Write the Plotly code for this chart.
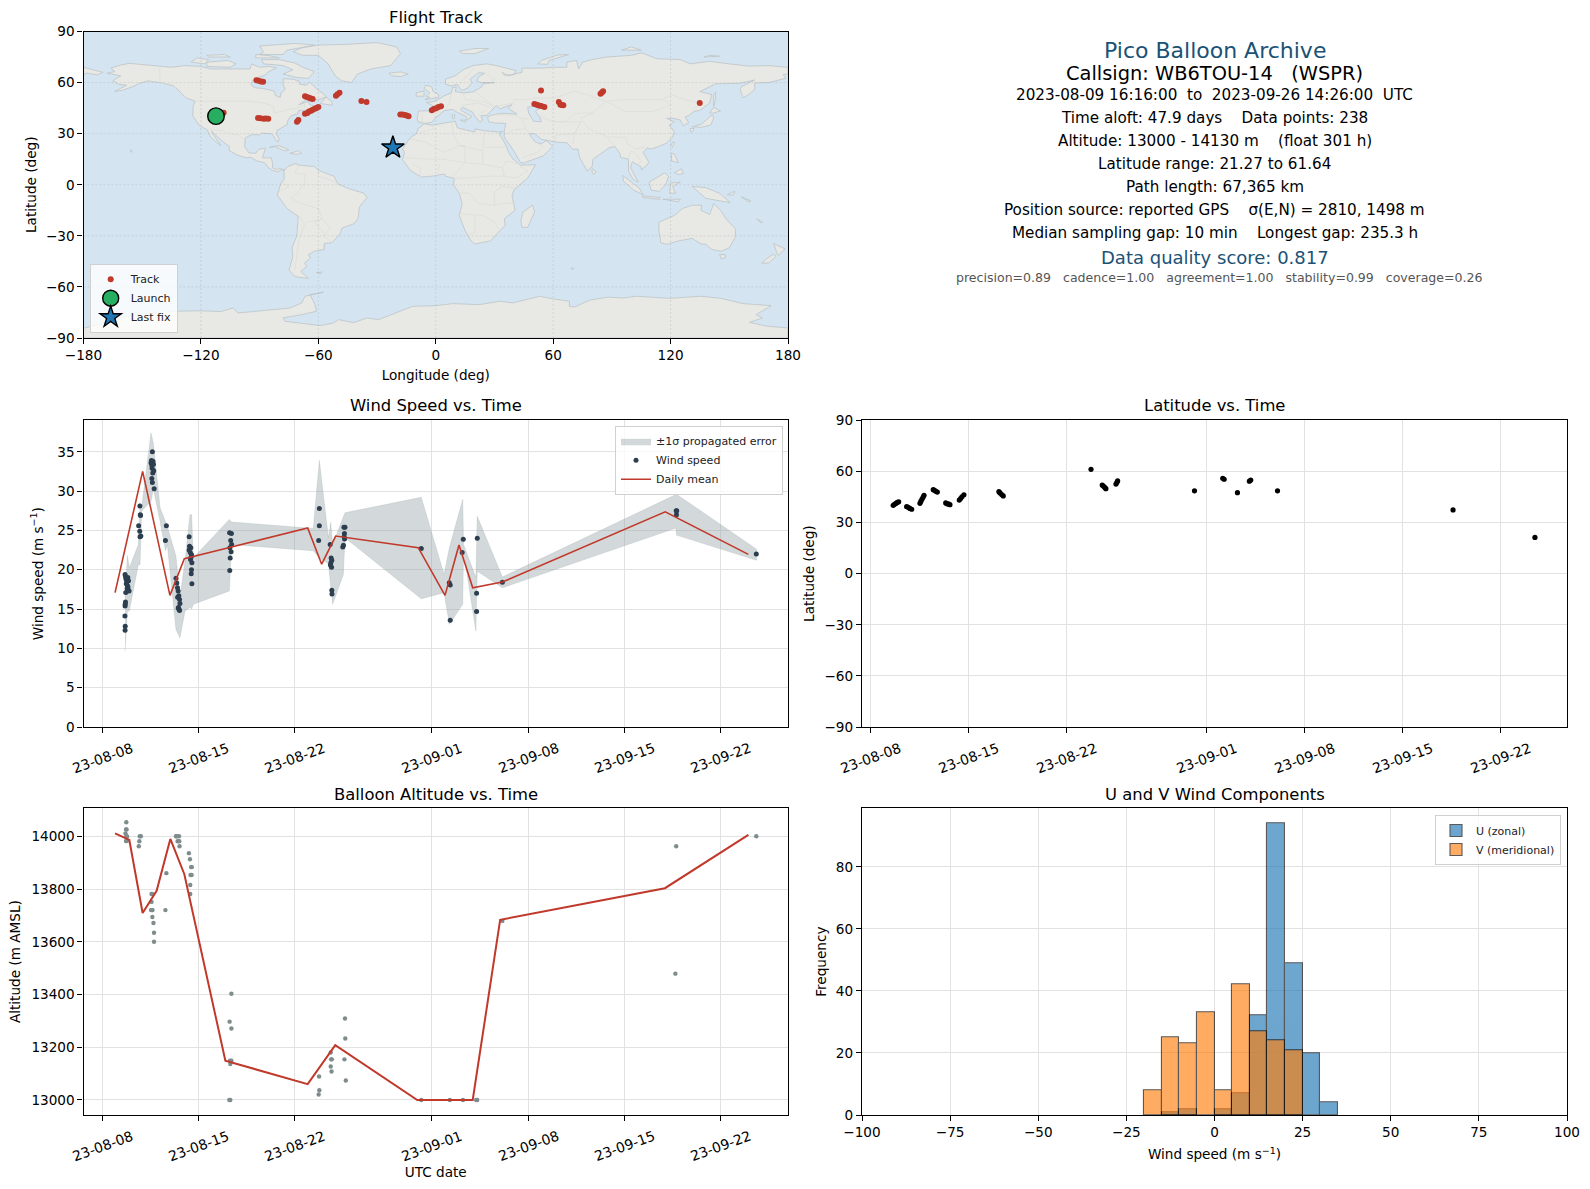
import pandas as pd
import plotly.graph_objects as go

FIG_W = 1590
FIG_H = 1189
FONT = "DejaVu Sans"

RED = "#c0392b"
NAVY = "#1a5276"

DAY0 = pd.Timestamp("2023-08-08")

date_ticks = ["2023-08-08", "2023-08-15", "2023-08-22", "2023-09-01", "2023-09-08", "2023-09-15", "2023-09-22"]
date_labels = ["23-08-08", "23-08-15", "23-08-22", "23-09-01", "23-09-08", "23-09-15", "23-09-22"]

# ---- map outlines (lon, lat)
north_america = [(-168, 65.5), (-164, 66.5), (-166, 68.5), (-161, 70.3), (-156.5, 71.3), (-150, 70.5), (-141, 69.7),
                 (-135, 69), (-128, 70), (-120, 69.5), (-115, 68), (-108, 68), (-100, 68), (-95, 68), (-94, 71),
                 (-90, 69), (-85, 69.5), (-81.5, 68.5), (-86, 66), (-87, 64.5), (-93, 62), (-94.5, 59), (-92.5, 57),
                 (-88, 56.5), (-82.5, 55), (-82, 52.5), (-79.5, 51.3), (-79, 54), (-77, 56), (-78, 59), (-78, 62.3),
                 (-73, 62), (-70, 61), (-69.5, 59), (-66, 58.5), (-64.5, 60.3), (-61, 56.5), (-57, 53), (-56, 51.5),
                 (-60, 50), (-66, 50), (-70, 47), (-65, 49), (-64.5, 47), (-61, 46), (-65.5, 43.7), (-70, 43.7),
                 (-70.5, 41.7), (-74, 40.5), (-75.5, 38), (-76, 35.2), (-78, 34), (-81, 32), (-81.5, 30), (-80, 26.8),
                 (-80.5, 25.2), (-82, 26.5), (-82.8, 28.5), (-84, 30), (-89, 30.3), (-90, 29.2), (-94, 29.5),
                 (-97.3, 27.5), (-97.7, 22.5), (-95.5, 18.7), (-92, 18.5), (-90.5, 20.8), (-87, 21.5), (-88, 17),
                 (-88.5, 15.8), (-84, 15.8), (-83.3, 12), (-83.5, 10), (-81.5, 9), (-79.5, 9.5), (-77.3, 8.7),
                 (-77.5, 8.3), (-79, 8.8), (-80.5, 7.5), (-83, 8.3), (-85.5, 10), (-87.5, 13), (-91.5, 14),
                 (-94.5, 16.2), (-97, 15.8), (-101.5, 17.5), (-105.5, 20), (-105.5, 22.5), (-109, 25.5), (-112.5, 29),
                 (-114.7, 31.5), (-112, 26.5), (-109.7, 23), (-112, 24.8), (-115, 28), (-117, 32.5), (-120.5, 34.5),
                 (-122.5, 37.5), (-124.2, 40.5), (-124, 46), (-123, 49), (-127.5, 51), (-130.5, 54.5), (-134, 58),
                 (-140, 59.8), (-147, 61), (-151.5, 59.5), (-154, 58), (-160, 55.5), (-164, 54.8), (-158, 58.5),
                 (-162, 59), (-165, 61), (-161, 64), (-168, 65.5)]
south_america = [(-77.5, 8.3), (-75.5, 10.8), (-71.5, 12.5), (-70, 11.5), (-62, 10.7), (-60, 8.5), (-52, 5), (-50, 0.5),
                 (-44, -2.5), (-37, -4.8), (-35, -7.5), (-39, -13), (-39.7, -20), (-42, -23), (-48, -25.5),
                 (-48.7, -28.5), (-53, -34), (-57, -34.5), (-57, -38), (-62, -39), (-65, -41), (-64, -43), (-67, -46),
                 (-66, -48), (-69, -51), (-65, -55), (-72, -54), (-75, -50), (-73, -42), (-73.5, -37), (-71, -30),
                 (-70.3, -18.5), (-76, -14), (-81, -6), (-80, -2.5), (-79, 1.5), (-77.5, 3), (-77.5, 8.3)]
eurasia = [(-9, 37), (-9.5, 38.8), (-8.8, 43.3), (-1.5, 43.5), (-1, 46), (-4.7, 48.4), (-1.5, 48.7), (1.5, 50.2),
           (4, 52), (8, 54), (8.5, 57), (10.5, 57.5), (10, 54.7), (14, 54), (19, 54.5), (21, 56), (23.5, 57.5),
           (24, 59.3), (30, 60), (23, 60), (21, 61), (22, 63.5), (25, 65.5), (22, 65.8), (17.5, 62), (18.5, 60),
           (16.5, 57), (14, 55.5), (12.7, 56), (11, 59), (8, 58), (5, 59), (5, 62), (10, 64), (14, 67.5), (19, 70),
           (26, 71), (31, 70), (41, 67), (40, 64.7), (35, 64.3), (34, 66), (37, 64), (40, 65), (44, 66), (44, 68.5),
           (54, 68.5), (60, 69), (67, 69), (67, 72), (72, 73), (73, 68), (75, 72), (80, 73.5), (87, 75), (100, 76),
           (105, 77.5), (113, 74), (125, 73.5), (130, 71), (140, 72.5), (150, 71), (160, 69.7), (170, 70), (180, 69),
           (180, 65), (177.5, 64.7), (179, 62.5), (170, 60), (163, 59.8), (163, 56), (160, 53), (157, 51),
           (155.5, 56), (156, 57.5), (163, 61.5), (155, 59.5), (143, 59.3), (135, 54.7), (141, 53), (140, 48),
           (135, 43.7), (132, 43), (129.7, 41), (127.5, 39.7), (129.3, 36.5), (126.5, 34.5), (125, 38), (121.5, 39),
           (118, 39), (122, 37), (119.3, 35), (122, 31), (121, 28), (118, 24.5), (113.5, 22.2), (110, 21),
           (108, 21.6), (106, 19), (109, 13), (107, 10.5), (105, 8.7), (105, 10.5), (100.5, 13.5), (99.5, 10),
           (103.5, 1.5), (101, 3), (98.5, 8), (98.5, 15), (94.5, 16), (94, 18.5), (91.5, 22.5), (88.5, 21.7),
           (86.5, 20), (80.3, 15), (80, 11), (77.5, 8), (73.5, 16), (72.7, 21), (70, 20.8), (67, 24.7), (61.5, 25),
           (57, 26), (54, 26.7), (50.5, 30), (48, 30), (48.5, 28.5), (51, 25), (54, 24), (56.5, 26), (59.7, 22.5),
           (55, 17), (45, 12.8), (43.3, 13), (39.5, 20.5), (35, 28), (35, 31.5), (35.8, 36), (30, 36.3), (27, 37),
           (26.5, 40), (29, 41), (34, 42), (41.5, 41.5), (37, 45), (39, 47), (35, 45.5), (33, 44.5), (31, 46.5),
           (28, 43), (26, 40.7), (23, 40.5), (24, 38), (22.5, 36.7), (19.5, 41), (19, 42.5), (13.7, 45.5), (12.5, 44),
           (16, 41.5), (18.5, 40), (16, 38), (15.7, 40), (11, 42.5), (8.5, 44.3), (4, 43.5), (3, 42), (0, 39.5),
           (-2, 36.7), (-5.5, 36), (-9, 37)]
africa = [(-5.8, 35.8), (-2, 35), (10, 37.3), (11, 33.5), (15, 32.3), (20, 31), (20, 32.8), (25, 31.7), (32, 31),
          (34.2, 31.3), (32.5, 30), (35.5, 24), (37.5, 18.5), (39.5, 15), (43.3, 11.5), (51, 11.8), (47, 4), (40, -3),
          (39, -6.5), (40.5, -15), (35, -20), (35.5, -24), (32.7, -27), (28, -33), (20, -34.8), (18, -33), (15, -27),
          (12, -18), (13.5, -11), (12, -5), (9, 0), (9.5, 3.8), (5, 5), (4.5, 6.3), (-2, 5), (-7.5, 4.5), (-13, 8.5),
          (-17, 14.7), (-16, 19), (-17, 21), (-13, 27.7), (-9.8, 30), (-9, 33), (-5.8, 35.8)]
australia = [(114, -22), (122, -18), (126, -14), (131, -12), (136, -12), (135.5, -15), (140, -17.5), (142, -11),
             (145.5, -15), (149, -21), (153.3, -26), (153, -31), (150, -37), (146, -39), (141, -38), (138, -35),
             (135.5, -34.7), (131, -31.5), (124, -33), (118, -35), (115, -34), (114, -27), (114, -22)]
antarctica = [(-180, -84.3), (-165, -80), (-155, -76.5), (-146, -75.5), (-134, -74.3), (-120, -74), (-110, -74.5),
              (-103.6, -72.4), (-101, -75.3), (-74.5, -72.4), (-68.5, -69.4), (-66.8, -65.5), (-57.4, -63.1),
              (-64.3, -64.5), (-61.7, -70.4), (-61, -74.3), (-68.5, -76.3), (-78, -78.2), (-77, -80.2), (-59, -82.7),
              (-52.3, -81.2), (-49.7, -79.2), (-42, -81), (-35, -78.2), (-29.3, -79.2), (-18.6, -74.7), (-11.8, -71.4),
              (0, -71), (8.7, -69.8), (22, -70.4), (33, -68.4), (39.4, -69.4), (53, -65.5), (59.8, -67), (68.3, -68.4),
              (68.3, -71.4), (71, -71.8), (78.5, -67.8), (88, -66), (95.6, -66.5), (102.7, -65.5), (119.4, -66.7),
              (135.6, -65.5), (145.8, -66.7), (157, -69.8), (171.4, -71), (163.7, -76.3), (167, -78.2), (160.3, -80.8),
              (168.8, -83), (180, -84.1), (180, -90), (-180, -90), (-180, -84.3)]
greenland = [(-73, 78.2), (-68, 76), (-60, 76), (-55, 71), (-53, 67), (-51, 63.5), (-48, 61), (-43, 60), (-40, 65),
             (-33, 68), (-23, 70), (-20, 74), (-18, 77), (-20, 81), (-30, 83.5), (-45, 82.5), (-60, 82), (-68, 80.5),
             (-73, 78.2)]
arctic_islands = [
    [(-80, 73.5), (-72, 71.5), (-68, 69), (-62, 66.5), (-65, 62.5), (-71, 63), (-78, 65), (-73, 67.5), (-78, 70),
     (-88, 71), (-89, 73.5), (-80, 73.5)],
    [(-117, 69.5), (-105, 69), (-102, 71), (-106, 73), (-117, 72), (-117, 69.5)],
    [(-125, 72), (-118, 71), (-116, 73.5), (-122, 74.5), (-125, 72)],
    [(-90, 76.5), (-78, 76.5), (-76, 79), (-62, 82), (-72, 83), (-90, 81.5), (-88, 78), (-90, 76.5)],
    [(-92, 74.5), (-80, 74.5), (-85, 75.8), (-92, 76.5), (-92, 74.5)],
    [(-116, 75), (-105, 75), (-108, 76.5), (-117, 76), (-116, 75)],
    [(12, 78.5), (20, 80), (27, 80), (20, 77), (14, 77), (12, 78.5)],
    [(52, 71), (57, 70.7), (58, 73), (68, 76.5), (62, 76.2), (54, 73), (52, 71)],
    [(95, 79), (105, 79), (100, 81), (95, 79)],
    [(137, 75), (145, 75.5), (140, 76), (137, 75)],
    [(-180, 69), (-175, 67.5), (-170, 66), (-173, 64.5), (-178, 65.5), (-180, 65), (-180, 69)],
]
other_islands = [
    [(-59, 47.7), (-53, 46.7), (-53, 48.5), (-56, 51.5), (-59, 47.7)],
    [(-85, 22), (-80, 23), (-75, 20.5), (-77.5, 19.9), (-82, 22.5), (-85, 22)],
    [(-74.5, 18.5), (-70, 20), (-68.5, 18.5), (-71.5, 17.8), (-74.5, 18.5)],
    [(-156, 20.6), (-155, 19.8), (-155.7, 19), (-156, 20.6)],
    [(-24, 65.5), (-18, 66.3), (-14, 65), (-18, 63.5), (-22.5, 64), (-24, 65.5)],
    [(-5.5, 50), (1.5, 51.2), (1.5, 52.8), (-1.5, 55), (-2, 57.5), (-5, 58.5), (-6, 56.5), (-3, 54), (-5, 52), (-3, 51.3), (-5.5, 50)],
    [(-10, 52), (-6, 52), (-6, 55), (-10, 54), (-10, 52)],
    [(49.5, -12), (50.5, -16), (47, -25), (44, -25), (43.5, -21), (44.5, -16), (49.5, -12)],
    [(145, -41), (148, -41), (148, -43), (146, -43.5), (145, -41)],
    [(172.7, -34.5), (178.5, -37.7), (175, -41.5), (174, -39), (172.7, -34.5)],
    [(172.5, -40.7), (174, -42), (170, -46), (166.5, -46), (169, -43.5), (172.5, -40.7)],
    [(131, -1), (138, -1.7), (145, -5), (150.5, -10.5), (143, -9), (138, -8), (134, -4), (131, -1)],
    [(109, 1.5), (117, 7), (119, 5), (117.5, 0), (114, -4), (110, -3), (109, 1.5)],
    [(95.5, 5.5), (104, -2), (106, -6), (101, -3), (96, 2), (95.5, 5.5)],
    [(105.5, -6.5), (114.5, -7.5), (114.5, -8.6), (106, -7.5), (105.5, -6.5)],
    [(119.5, -5), (120, 1), (125, 1.5), (121, -1), (122.5, -5), (119.5, -5)],
    [(120.5, 18.5), (122, 18), (124, 13), (120.5, 14), (120.5, 18.5)],
    [(122, 7), (125.5, 9.5), (126.5, 6.5), (124, 6), (122, 7)],
    [(131, 34), (136, 35.7), (140, 40), (141.5, 41), (142, 39), (140.5, 35), (136, 33.8), (131, 34)],
    [(130, 33), (132, 33), (131, 31), (130, 31.3), (130, 33)],
    [(140, 42), (142, 45.5), (145.5, 43.3), (141.5, 42), (140, 42)],
    [(142, 46), (143, 50), (143, 54.3), (142, 53), (142, 49), (142, 46)],
    [(121, 25), (122, 25), (120.8, 22), (120, 23), (121, 25)],
    [(80, 9.5), (82, 7.5), (80.5, 6), (79.8, 8), (80, 9.5)],
    [(12.5, 38), (15.5, 38), (15, 36.7), (12.5, 38)],
    [(8.3, 41), (9.7, 41), (9.5, 39), (8.5, 39), (8.3, 41)],
    [(69, -49), (70.5, -49), (70, -50), (69, -49)],
    [(-61, -51.5), (-58, -51.3), (-59, -52.2), (-61, -51.5)],
    [(164, -20), (167, -22), (166, -22.3), (164, -20)],
    [(116, -8.5), (125, -8.5), (124, -10), (117, -9), (116, -8.5)],
    [(151, -4.5), (153, -4), (152, -6), (149, -6), (151, -4.5)],
    [(156, -7), (161, -9.5), (160, -10), (156, -7)],
]
caspian_sea = [(47, 45.5), (52, 47), (53, 45), (51, 43), (53, 40), (54, 37), (50, 37.3), (49, 39), (47.5, 42), (47, 45.5)]
borders = [
    [(-141, 69.7), (-141, 60), (-135, 59), (-130, 55)],
    [(-123, 49), (-95, 49), (-88, 48), (-83, 46), (-82.5, 42), (-76, 44), (-71, 45), (-67, 47), (-67, 45)],
    [(-117, 32.5), (-108, 31.5), (-104, 29.5), (-101, 29.5), (-97.3, 26)],
    [(-70, 11.5), (-72, 7), (-67, 6), (-67, 1), (-70, -4), (-74, -8), (-69, -11), (-60, -14), (-58, -20), (-54, -25), (-57, -30), (-53, -34)],
    [(-70, -18), (-67, -23), (-70, -33), (-72, -50)],
    [(-79, 1.5), (-75, -1), (-80, -4)],
    [(-60, 8.5), (-60, 5), (-52, 2), (-50, 0.5)],
    [(-66, -22), (-58, -20), (-62, -22), (-58, -27), (-57, -30)],
    [(28, 41), (40, 41), (44, 39), (48, 38.5)],
    [(20, 54.5), (24, 51), (30, 46), (40, 48), (40, 50), (47, 50), (50, 51), (61, 51), (71, 55), (77, 53), (87, 49),
     (98, 50), (107, 50), (116, 50), (120, 53), (127, 50), (135, 48), (131, 43)],
    [(87, 49), (80, 42), (74, 39), (78, 33), (88, 28), (97, 28), (98, 24), (102, 21), (107, 22)],
    [(87, 49), (97, 43), (111, 43), (120, 47), (116, 50)],
    [(61, 37), (66, 37), (74, 37), (71, 30), (61, 29), (61, 25)],
    [(53, 40), (61, 37), (66, 37), (71, 42), (80, 42)],
    [(44, 39), (46, 33), (48, 30)], [(35, 29), (39, 32), (46, 33)], [(44, 16), (52, 19), (55, 22), (51, 25)],
    [(74, 37), (71, 30), (70, 24)], [(88, 27), (92, 22)], [(98, 15), (100, 20), (102, 18), (105, 14), (103, 11)],
    [(5, 44), (7, 48), (8, 54)], [(-1.5, 43.5), (3, 42.5)], [(-7, 42), (-7, 37)], [(14, 54), (15, 50), (24, 49), (30, 46)],
    [(13, 46.5), (22, 48), (29, 45)], [(21, 41), (26, 44)], [(12, 59), (20, 69)], [(24, 66), (30, 62), (28, 60)],
    [(-9, 30), (-1, 33), (-2, 35)], [(8, 37), (9, 30), (12, 23), (24, 20), (25, 31.7)], [(25, 22), (37, 22)],
    [(-13, 27), (-5, 25), (4, 19), (12, 23), (15, 23), (15, 13), (24, 12), (24, 20)], [(-17, 16), (-5, 15), (4, 15), (15, 13)],
    [(24, 12), (34, 10), (36, 14), (43, 12)], [(34, 10), (35, 5), (41, 4), (47, 8), (43, 11)],
    [(9.5, 3.8), (15, 4), (27, 5), (35, 5)], [(12, -5), (17, -5), (22, -11), (30, -12), (30, -4), (34, -1), (41, -2)],
    [(12, -17), (24, -18), (30, -22), (32, -26)], [(20, -18), (20, -28), (17, -29)], [(30, -12), (35, -11), (40.5, -11)],
    [(1, 6), (2, 12)], [(-8, 4.5), (-8, 10), (-12, 12)], [(9, 5), (14, 12)],
]

# ---- track
track_lon = [-91.6, -90.5, -89.3, -88.2, -108.4, -90.8, -89.6, -88.0, -86.9, -85.6, -70.9, -70.2, -66.8, -65.6, -64.8,
             -63.7, -62.9, -61.8, -60.9, -60.0, -66.8, -65.9, -64.8, -63.8, -62.9, -51.0, -50.2, -49.2, -38.0, -35.4,
             -18.1, -17.0, -15.8, -14.9, -13.9, -2.0, -1.0, 0.2, 1.4, 2.7, 50.4, 51.6, 52.7, 53.9, 55.5, 53.8, 62.9,
             63.7, 64.5, 65.2, 84.2, 84.9, 85.5, 134.9]
track_lat = [61.4, 61.1, 60.7, 60.5, 42.3, 39.2, 39.0, 38.7, 38.9, 38.8, 37.0, 38.0, 41.7, 42.2, 43.0, 43.4, 44.1, 44.6,
             45.1, 45.7, 52.0, 51.6, 51.1, 50.7, 50.3, 52.2, 53.1, 54.0, 49.2, 48.6, 41.3, 41.2, 40.9, 40.6, 40.3, 43.8,
             44.5, 45.0, 45.6, 46.1, 47.4, 47.0, 46.5, 46.2, 45.7, 55.3, 48.6, 47.0, 46.9, 46.7, 53.4, 54.2, 54.9, 48.0]
launch_lon = [-112.3]
launch_lat = [40.3]
last_lon = [-21.9]
last_lat = [21.8]

# ---- wind speed (days after 2023-08-08)
wind_days = [1.63, 1.66, 1.70, 1.75, 1.80, 1.84, 1.88, 1.92, 1.88, 1.83, 1.78, 1.72, 1.68, 1.66, 1.64, 1.63, 1.62, 1.64,
             1.63, 2.62, 2.70, 2.71, 2.74, 2.76, 2.72, 2.78, 3.52, 3.55, 3.58, 3.62, 3.66, 3.70, 3.60, 3.65, 3.58, 3.72,
             3.62, 3.75, 4.64, 4.57, 5.34, 5.40, 5.45, 5.50, 5.55, 5.60, 5.63, 5.52, 5.46, 5.58, 5.51, 5.60,
             6.30, 6.33, 6.30, 6.38, 6.42, 6.48, 6.44, 6.40, 6.50, 6.47, 6.45, 6.50, 9.25, 9.38, 9.33, 9.40, 9.27, 9.36,
             9.29, 9.26, 15.79, 15.79, 15.74, 16.58, 16.65, 16.70, 16.63, 16.60, 16.68, 16.70, 16.71,
             17.58, 17.66, 17.62, 17.60, 17.63, 17.55, 17.50, 23.22, 25.26, 25.33, 25.33, 26.28, 26.20,
             27.30, 27.25, 27.25, 29.13, 41.80, 41.84, 41.82, 47.64]
wind_speed = [19.4, 19.1, 18.8, 18.4, 18.0, 17.8, 17.4, 17.3, 18.6, 19.0, 17.6, 18.2, 17.1, 15.9, 15.6, 15.4, 14.1, 12.8,
              12.3, 25.6, 24.9, 28.1, 27.0, 26.9, 24.2, 24.3, 33.6, 33.9, 33.3, 35.0, 33.8, 33.4, 32.9, 32.3, 31.6,
              32.6, 31.1, 30.3, 25.6, 23.7, 18.9, 18.3, 17.7, 17.3, 16.7, 16.2, 15.7, 15.2, 16.5, 14.9, 15.1, 14.8,
              24.2, 23.0, 22.5, 22.2, 22.8, 21.9, 21.6, 21.3, 20.9, 20.0, 19.5, 18.2, 24.7, 24.6, 23.7, 23.2, 22.8,
              22.3, 21.5, 19.9, 27.8, 25.6, 23.7, 23.2, 21.5, 21.2, 20.9, 20.6, 20.3, 17.4, 16.9, 25.4, 25.4, 24.6, 24.2,
              23.9, 23.1, 22.9, 22.7, 18.35, 18.05, 13.56, 23.86, 22.2, 24.0, 17.0, 14.7, 18.4, 27.5, 27.5, 27.0, 22.0]
band_days = [1.63, 1.80, 1.94, 2.60, 2.72, 2.84, 3.52, 3.69, 4.18, 4.57, 4.71, 5.34, 5.63, 6.00, 6.36, 6.48, 6.60, 9.23,
             9.40, 15.35, 15.79, 16.45, 16.62, 16.76, 17.54, 17.66, 23.22, 24.88, 25.27, 26.24, 26.30, 27.20, 27.30,
             29.13, 41.78, 41.82, 47.66]
band_low = [9.66, 14.75, 14.75, 20.7, 20.6, 27.46, 28.7, 30.3, 26.2, 22.4, 23.2, 12.4, 11.36, 14.75, 15.2, 15.0, 15.6,
            17.3, 23.2, 22.4, 21.5, 20.76, 18.14, 15.6, 19.4, 24.07, 16.3, 17.08, 13.05, 15.6, 22.37, 12.2, 19.8, 17.7,
            25.3, 24.4, 21.2]
band_high = [16.44, 21.8, 20.25, 23.2, 28.5, 27.9, 37.4, 36.1, 27.9, 26.0, 25.5, 21.7, 16.44, 21.1, 27.0, 27.0, 21.5,
             26.4, 26.06, 25.25, 33.9, 24.07, 26.0, 23.2, 26.6, 27.25, 29.2, 19.4, 22.8, 28.94, 23.2, 19.0, 26.8, 19.07,
             29.55, 29.6, 22.6]
mean_days = [0.90, 2.91, 4.90, 5.95, 8.95, 14.94, 15.96, 16.98, 23.0, 24.95, 25.97, 26.97, 29.13, 41.0, 47.06]
mean_speed = [17.08, 32.5, 16.74, 21.4, 22.7, 25.3, 20.7, 24.28, 22.8, 16.74, 23.14, 17.71, 18.43, 27.37, 21.95]

# ---- latitude
lat_days = [1.61, 1.70, 1.80, 1.90, 2.00, 2.57, 2.68, 2.80, 2.93, 3.52, 3.58, 3.66, 3.74, 3.81, 4.47, 4.56, 4.66, 4.76,
            5.36, 5.45, 5.56, 5.66, 6.33, 6.42, 6.52, 6.66, 9.16, 9.24, 9.36, 9.47, 15.74, 16.54, 16.62, 16.72, 16.80,
            17.52, 17.58, 17.64, 23.13, 25.15, 25.25, 26.2, 27.05, 27.15, 29.06, 41.6, 47.45]
lat_vals = [40.1, 40.7, 41.2, 41.8, 42.2, 39.3, 38.9, 38.3, 37.8, 41.3, 42.4, 43.6, 44.8, 46.0, 49.3, 48.9, 48.3, 47.9,
            41.5, 41.0, 40.9, 40.5, 43.2, 44.1, 45.1, 46.3, 48.1, 47.4, 46.4, 45.6, 61.2, 52.0, 51.4, 50.6, 49.9, 52.6,
            53.5, 54.4, 48.6, 56.0, 55.4, 47.5, 54.3, 54.9, 48.6, 37.4, 21.27]

# ---- altitude
alt_days = [1.72, 1.70, 1.74, 1.66, 1.72, 1.78, 1.70, 1.76, 2.70, 2.78, 2.67, 2.63, 3.56, 3.60, 3.56, 3.60, 3.52, 3.63,
            3.62, 3.70, 3.74, 3.74, 4.64, 4.57, 5.34, 5.40, 5.56, 5.46, 5.58, 5.60, 6.28, 6.36, 6.44, 6.50, 6.40, 6.48,
            6.38, 6.38, 9.38, 9.25, 9.38, 9.28, 9.38, 9.30, 9.23, 9.30, 15.77, 15.79, 15.74, 16.62, 16.65, 16.70, 16.62,
            16.68, 17.66, 17.68, 17.62, 17.72, 23.22, 25.30, 26.26, 27.22, 27.30, 29.13, 41.80, 41.74, 47.64]
altitude = [14053, 14026, 14026, 14011, 13999, 13999, 13982, 13982, 14000, 14000, 13981, 13962, 13781, 13781, 13751, 13720,
            13720, 13720, 13694, 13671, 13634, 13600, 13860, 13720, 14000, 14000, 14000, 13981, 13981, 13962, 13936,
            13913, 13883, 13883, 13853, 13853, 13815, 13781, 13403, 13297, 13271, 13149, 13149, 13136, 13000, 13000,
            13089, 13037, 13021, 13180, 13154, 13154, 13127, 13108, 13309, 13233, 13154, 13074, 13000, 13000, 13000,
            13000, 13000, 13679, 13962, 13479, 14000]
alt_mean_days = [0.90, 1.94, 2.91, 3.93, 4.93, 5.95, 8.94, 14.94, 16.95, 22.93, 26.97, 28.97, 40.98, 47.06]
alt_mean = [14011, 13986, 13709, 13793, 13990, 13856, 13149, 13060, 13208, 13000, 13000, 13683, 13803, 14005]

# ---- histogram, 5 m/s bins
u_bins = [-12.5, -7.5, 2.5, 7.5, 12.5, 17.5, 22.5, 27.5, 32.5]
u_counts = [1, 2, 2, 7, 32, 94, 49, 20, 4]
v_bins = [-17.5, -12.5, -7.5, -2.5, 2.5, 7.5, 12.5, 17.5, 22.5]
v_counts = [8, 25, 23, 33, 8, 42, 27, 24, 21]

# text, size, colour, x centre, y centre (px)
info_lines = [
    ("Pico Balloon Archive", 22, NAVY, 1214.6, 50),
    ("Callsign: WB6TOU-14   (WSPR)", 19.4, "black", 1214.6, 73.8),
    ("2023-08-09 16:16:00  to  2023-09-26 14:26:00  UTC", 15.2, "black", 1214.6, 95),
    ("Time aloft: 47.9 days    Data points: 238", 15.2, "black", 1214.6, 118.3),
    ("Altitude: 13000 - 14130 m    (float 301 h)", 15.2, "black", 1214.6, 141.3),
    ("Latitude range: 21.27 to 61.64", 15.2, "black", 1214.6, 164.3),
    ("Path length: 67,365 km", 15.2, "black", 1214.6, 187.3),
    ("Position source: reported GPS    σ(E,N) = 2810, 1498 m", 15.2, "black", 1214.6, 210.3),
    ("Median sampling gap: 10 min    Longest gap: 235.3 h", 15.2, "black", 1214.6, 233.3),
    ("Data quality score: 0.817", 18, NAVY, 1214.6, 257.5),
    ("precision=0.89   cadence=1.00   agreement=1.00   stability=0.99   coverage=0.26", 12.55, "#555555", 1219, 277.3),
]


def to_dates(days):
    return DAY0 + pd.to_timedelta(days, unit="D")


def dom_x(left, right):
    return [left / FIG_W, right / FIG_W]


def dom_y(top, bottom):
    return [1 - bottom / FIG_H, 1 - top / FIG_H]


def outline_xy(polys):
    xs, ys = [], []
    for poly in polys:
        xs += [p[0] for p in poly] + [None]
        ys += [p[1] for p in poly] + [None]
    return xs, ys


def add_land(fig):
    land = [antarctica, north_america, south_america, eurasia, africa, australia, greenland] + arctic_islands + other_islands
    x, y = outline_xy(land)
    fig.add_trace(go.Scatter(x=x, y=y, mode="lines", fill="toself", fillcolor="#e8e8e4",
                             line=dict(color="#bcc4c8", width=0.8), hoverinfo="skip", showlegend=False))
    x, y = outline_xy(borders)
    fig.add_trace(go.Scatter(x=x, y=y, mode="lines", line=dict(color="#dcdcd8", width=0.7),
                             hoverinfo="skip", showlegend=False))
    fig.add_trace(go.Scatter(x=[p[0] for p in caspian_sea], y=[p[1] for p in caspian_sea], mode="lines", fill="toself",
                             fillcolor="#d4e5f1", line=dict(color="#bcc4c8", width=0.8), hoverinfo="skip", showlegend=False))


def axis_style(**kw):
    style = dict(showline=True, linecolor="black", linewidth=1.2, mirror=True, ticks="outside", ticklen=5,
                 tickwidth=1.1, tickcolor="black", showgrid=True, gridcolor="#e2e2e2", gridwidth=1.3, zeroline=False,
                 tickfont=dict(size=13.6, color="black"), automargin=False)
    style.update(kw)
    return style


def date_axis(domain, first, last, title=None):
    # labels are annotations: plotly can't centre rotated tick labels on the tick
    ax = axis_style(type="date", domain=domain, range=[to_dates(first), to_dates(last)], tickmode="array",
                    tickvals=date_ticks, ticktext=date_labels, showticklabels=False)
    if title:
        ax["title"] = dict(text=title, font=dict(size=13.6), standoff=47)
    return ax


def y_title(text, standoff=8):
    return dict(text=text, font=dict(size=13.6), standoff=standoff)


fig = go.Figure()

# flight track
add_land(fig)
fig.add_trace(go.Scatter(x=track_lon, y=track_lat, mode="markers", name="Track",
                         marker=dict(color=RED, size=6), legend="legend"))
fig.add_trace(go.Scatter(x=launch_lon, y=launch_lat, mode="markers", name="Launch",
                         marker=dict(color="#27ae60", size=16.5, line=dict(color="black", width=1.4)), legend="legend"))
fig.add_trace(go.Scatter(x=last_lon, y=last_lat, mode="markers", name="Last fix",
                         marker=dict(color="#1f77b4", size=17, symbol="star", line=dict(color="black", width=1.4)), legend="legend"))

# wind speed
band_x = to_dates(band_days).tolist() + to_dates(band_days[::-1]).tolist()
fig.add_trace(go.Scatter(x=band_x, y=band_high + band_low[::-1], mode="lines", fill="toself", name="±1σ propagated error",
                         fillcolor="rgba(149,165,166,0.42)", line=dict(color="rgba(149,165,166,0.3)", width=0.8),
                         xaxis="x2", yaxis="y2", legend="legend2"))
fig.add_trace(go.Scatter(x=to_dates(wind_days), y=wind_speed, mode="markers", name="Wind speed",
                         marker=dict(color="#2c3e50", size=5), xaxis="x2", yaxis="y2", legend="legend2"))
fig.add_trace(go.Scatter(x=to_dates(mean_days), y=mean_speed, mode="lines", name="Daily mean",
                         line=dict(color=RED, width=1.6), xaxis="x2", yaxis="y2", legend="legend2"))

# latitude
fig.add_trace(go.Scatter(x=to_dates(lat_days), y=lat_vals, mode="markers", marker=dict(color="black", size=5.2),
                         xaxis="x3", yaxis="y3", showlegend=False))

# altitude
fig.add_trace(go.Scatter(x=to_dates(alt_days), y=altitude, mode="markers", marker=dict(color="#7f8c8d", size=4.4),
                         xaxis="x4", yaxis="y4", showlegend=False))
fig.add_trace(go.Scatter(x=to_dates(alt_mean_days), y=alt_mean, mode="lines", line=dict(color=RED, width=2),
                         xaxis="x4", yaxis="y4", showlegend=False))

# u/v histogram
fig.add_trace(go.Bar(x=u_bins, y=u_counts, width=5, name="U (zonal)", opacity=0.65,
                     marker=dict(color="#1f77b4", line=dict(color="black", width=1.1)),
                     xaxis="x5", yaxis="y5", legend="legend3"))
fig.add_trace(go.Bar(x=v_bins, y=v_counts, width=5, name="V (meridional)", opacity=0.65,
                     marker=dict(color="#ff7f0e", line=dict(color="black", width=1.1)),
                     xaxis="x5", yaxis="y5", legend="legend3"))

legend_base = dict(bgcolor="rgba(255,255,255,0.8)", bordercolor="#d0d0d0", borderwidth=1, font=dict(size=11, color="#222222"),
                   tracegroupgap=0, itemsizing="trace")

annotations = []
titles = [("Flight Track", 436, 28), ("Wind Speed vs. Time", 436, 416), ("Latitude vs. Time", 1214.6, 416),
          ("Balloon Altitude vs. Time", 436, 804.5), ("U and V Wind Components", 1214.6, 804.5)]
for text, px, py in titles:
    annotations.append(dict(text=text, x=px / FIG_W, y=1 - py / FIG_H, xref="paper", yref="paper", xanchor="center",
                            yanchor="bottom", showarrow=False, font=dict(size=16.4, color="black"), borderpad=0))
for text, size, color, px, py in info_lines:
    annotations.append(dict(text=text, x=px / FIG_W, y=1 - py / FIG_H, xref="paper", yref="paper", xanchor="center",
                            yanchor="middle", showarrow=False, font=dict(size=size, color=color), borderpad=0))
for xref, bottom in [("x2", 727), ("x3", 727), ("x4", 1115)]:
    for tick, label in zip(date_ticks, date_labels):
        annotations.append(dict(text=label, x=tick, y=1 - (bottom + 30.5) / FIG_H, xref=xref, yref="paper", textangle=-20,
                                xanchor="center", yanchor="middle", showarrow=False, font=dict(size=13.9, color="black"),
                                borderpad=0))

shapes = [dict(type="rect", xref="x domain", yref="y domain", x0=0, x1=1, y0=0, y1=1, fillcolor="#d4e5f1",
               line=dict(width=0), layer="below")]
for lon in range(-120, 180, 60):
    shapes.append(dict(type="line", xref="x", yref="y", x0=lon, x1=lon, y0=-90, y1=90,
                       line=dict(color="rgba(130,130,130,0.28)", width=0.7, dash="2px,2px"), layer="above"))
for lat in range(-60, 90, 30):
    shapes.append(dict(type="line", xref="x", yref="y", x0=-180, x1=180, y0=lat, y1=lat,
                       line=dict(color="rgba(130,130,130,0.28)", width=0.7, dash="2px,2px"), layer="above"))

fig.update_layout(
    width=FIG_W,
    height=FIG_H,
    autosize=False,
    margin=dict(l=0, r=0, t=0, b=0, pad=0),
    paper_bgcolor="white",
    plot_bgcolor="white",
    font=dict(family=FONT, color="black"),
    barmode="overlay",
    bargap=0,
    shapes=shapes,
    annotations=annotations,
    xaxis=axis_style(domain=dom_x(83.5, 788), range=[-180, 180], tickvals=list(range(-180, 181, 60)), showgrid=False,
                     title=dict(text="Longitude (deg)", font=dict(size=13.6), standoff=8)),
    yaxis=axis_style(domain=dom_y(31.5, 338), range=[-90, 90], tickvals=list(range(-90, 91, 30)), showgrid=False,
                     title=y_title("Latitude (deg)", 6)),
    xaxis2=date_axis(dom_x(83.5, 788), -1.4, 49.95),
    yaxis2=axis_style(domain=dom_y(420.3, 727), range=[0, 39], tickvals=list(range(0, 36, 5)), anchor="x2",
                      title=y_title("Wind speed (m s<sup>−1</sup>)", 10)),
    xaxis3=date_axis(dom_x(862, 1567), -0.62, 49.74),
    yaxis3=axis_style(domain=dom_y(420.3, 727), range=[-90, 90], tickvals=list(range(-90, 91, 30)), anchor="x3",
                      title=y_title("Latitude (deg)", 6)),
    xaxis4=date_axis(dom_x(83.5, 788), -1.4, 49.95, title="UTC date"),
    yaxis4=axis_style(domain=dom_y(808.3, 1115), range=[12943, 14106], tickvals=list(range(13000, 14001, 200)), anchor="x4",
                      tickformat="d", title=y_title("Altitude (m AMSL)", 7)),
    xaxis5=axis_style(domain=dom_x(862, 1567), range=[-100, 100], tickvals=list(range(-100, 101, 25)), anchor="y5",
                      title=dict(text="Wind speed (m s<sup>−1</sup>)", font=dict(size=13.6), standoff=10)),
    yaxis5=axis_style(domain=dom_y(808.3, 1115), range=[0, 98.9], tickvals=list(range(0, 81, 20)), anchor="x5",
                      title=y_title("Frequency", 6)),
    legend=dict(legend_base, x=89.7 / FIG_W, y=1 - 332.7 / FIG_H, xanchor="left", yanchor="bottom"),
    legend2=dict(legend_base, x=783 / FIG_W, y=1 - 425.7 / FIG_H, xanchor="right", yanchor="top"),
    legend3=dict(legend_base, x=1561 / FIG_W, y=1 - 815 / FIG_H, xanchor="right", yanchor="top"),
)
fig.layout.xaxis2.anchor = "y2"
fig.layout.xaxis3.anchor = "y3"
fig.layout.xaxis4.anchor = "y4"

fig.write_html("out.html", config=dict(displayModeBar=False), post_script="document.body.style.margin='0';")
